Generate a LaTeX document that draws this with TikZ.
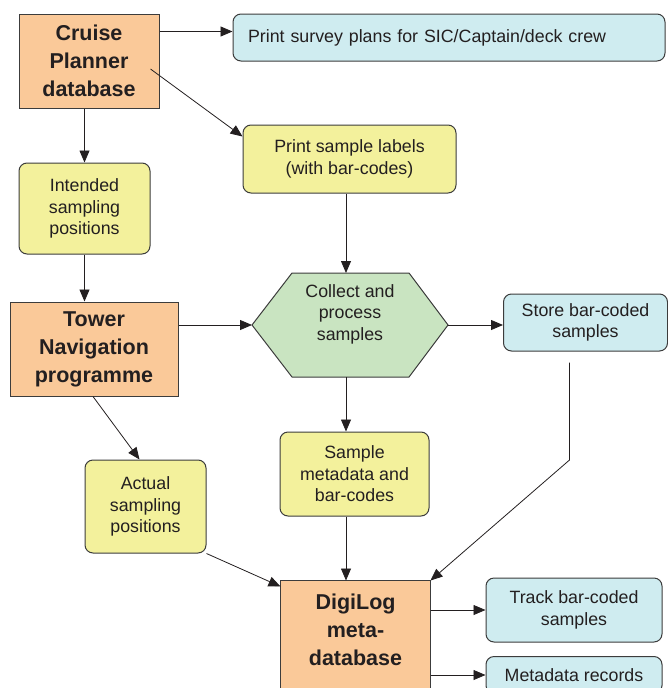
\documentclass[tikz,border=0pt]{standalone}
\usepackage{fontspec}
\setmainfont{Liberation Sans}
\usetikzlibrary{arrows.meta,backgrounds}
\definecolor{ink}{RGB}{35,31,32}
\definecolor{edge}{RGB}{60,60,60}
\definecolor{dbfill}{RGB}{250,201,153}
\definecolor{outfill}{RGB}{207,236,240}
\definecolor{stepfill}{RGB}{243,241,156}
\definecolor{hexfill}{RGB}{201,228,193}
\begin{document}
\begin{tikzpicture}
% 1pt = 1px of the 668x688 sheet, y runs down
[x=1pt,y=-1pt,line width=0.8pt,
 arr/.style={draw=ink,-{Triangle[length=12pt,width=10pt]}},
 dbbox/.style={draw=edge,fill=dbfill,line width=1pt,inner sep=0pt,align=center,text=ink,
   font=\fontsize{21.5}{28}\selectfont\bfseries},
 infobox/.style={draw=edge,fill=stepfill,rounded corners=8pt,line width=1pt,inner sep=0pt,
   align=center,text=ink,font=\fontsize{17.8}{21.5}\selectfont},
 outbox/.style={infobox,fill=outfill}]
\useasboundingbox (0,0) rectangle (668,688);
\clip (0,0) rectangle (668,688);
% databases and programmes
\node[dbbox,minimum width=140pt,minimum height=94pt] (cruise) at (89,61) {Cruise\\Planner\\database};
\node[dbbox,minimum width=168pt,minimum height=94pt] (tower) at (94,349) {Tower\\Navigation\\programme};
\node[dbbox,draw=none,fill=none,minimum width=149pt,minimum height=98pt] (digilog) at (355.5,630) {DigiLog\\meta-\\database};
\begin{scope}[on background layer]
% box runs on below the sheet
\draw[draw=edge,fill=dbfill,line width=1pt] (digilog.north west) rectangle ([yshift=-30pt]digilog.south east);
\end{scope}
% steps
\node[infobox,minimum width=213pt,minimum height=68pt] (labels) at (349.5,159) {Print sample labels\\(with bar-codes)};
\node[infobox,minimum width=131pt,minimum height=91pt] (intended) at (84.5,208.5) {Intended\\sampling\\positions};
\node[infobox,minimum width=121pt,minimum height=93pt] (actual) at (145.5,506.5) {Actual\\sampling\\positions};
\node[infobox,minimum width=149pt,minimum height=84pt] (metadata) at (354.5,474) {Sample\\metadata and\\bar-codes};
% hexagon: 252..448 wide, 273..377 high
\coordinate (hexW) at (252,325);
\coordinate (hexE) at (448,325);
\coordinate (hexN) at (346,273);
\coordinate (hexS) at (346,377);
\draw[draw=edge,fill=hexfill,line width=1pt] (hexW) -- (292,273) -- (409,273) -- (hexE) -- (409,377) -- (292,377) -- cycle;
\node[align=center,text=ink,inner sep=0pt,font=\fontsize{17.8}{21.5}\selectfont] (collect) at (350,314) {Collect and\\process\\samples};
% outputs
\node[outbox,minimum width=432pt,minimum height=47pt,text width=402pt,align=left] (survey) at (449,37.5) {Print survey plans for SIC/Captain/deck crew};
\node[outbox,minimum width=164pt,minimum height=57pt] (store) at (585.5,322.5) {Store bar-coded\\samples};
\node[outbox,minimum width=176pt,minimum height=64pt] (track) at (574,610) {Track bar-coded\\samples};
\node[outbox,minimum width=176pt,minimum height=37pt] (records) at (574,675) {Metadata records};
% connectors
\coordinate (surveyin) at ([yshift=6pt]survey.west);
\draw[arr] (cruise.east |- surveyin) -- (surveyin);
\draw[arr] ([xshift=-9pt,yshift=-8pt]cruise.east) -- ([yshift=-12pt]labels.north west);
\draw[arr] (cruise.south -| intended.north) -- (intended.north);
\draw[arr] (intended.south) -- (intended.south |- tower.north);
\draw[arr] (labels.south -| hexN) -- (hexN);
\draw[arr] (tower.east |- hexW) -- (hexW);
\draw[arr] (hexE) -- (store.west |- hexE);
\draw[arr] ([xshift=-1pt]tower.south) -- ([xshift=-6pt]actual.north);
\draw[arr] (hexS) -- (hexS |- metadata.north);
\draw[arr] (metadata.south -| hexS) -- (hexS |- digilog.north);
\draw[arr] (actual.south east) -- ([yshift=-6pt]digilog.north west);
\coordinate (storeout) at ([xshift=-16pt,yshift=-11pt]store.south);
\coordinate (bend) at (storeout |- 0,460);
\draw[arr] (storeout) -- (bend) -- (digilog.north east);
\draw[arr] (digilog.east |- track.west) -- (track.west);
\draw[arr] (digilog.east |- records.west) -- (records.west);
\end{tikzpicture}
\end{document}
